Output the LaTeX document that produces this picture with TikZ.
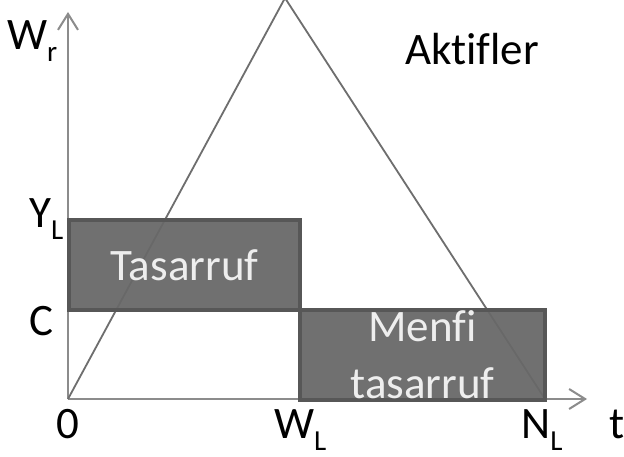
\documentclass[tikz,border=0pt]{standalone}
\usepackage{fontspec}
\setmainfont{Carlito}[Ligatures=NoCommon]
\usetikzlibrary{arrows.meta}
\definecolor{axisgray}{HTML}{8C8C8C}
\definecolor{linegray}{HTML}{6E6E6E}
\definecolor{boxfill}{HTML}{686868}
\definecolor{boxedge}{HTML}{575757}
\definecolor{boxtext}{HTML}{EEEEEE}
\newcommand{\lsub}[1]{\raisebox{-12pt}{\fontsize{29}{29}\selectfont #1}}
\begin{document}
\begin{tikzpicture}[x=1pt,y=-1pt,
  lbl/.style={inner sep=0pt, anchor=base west, font=\fontsize{45}{45}\selectfont, text=black},
  axisline/.style={draw=axisgray, line width=2pt, -{Straight Barb[length=16pt,width=20pt,line width=2pt]}},
  tri/.style={draw=linegray, line width=1.8pt},
  bar/.style={draw=boxedge, fill=boxfill, fill opacity=0.94, draw opacity=1, text opacity=1,
    line width=4pt, inner sep=0pt, text=boxtext, font=\fontsize{45}{57}\selectfont, align=center}]
\useasboundingbox (0,0) rectangle (624,457);
\fill[white] (0,0) rectangle (624,457);
% axes
\coordinate (O) at (68,399);
\coordinate (ytip) at (68,12);
\coordinate (xtip) at (587,399);
\draw[axisline] (O) -- (ytip);
\draw[axisline] (O) -- (xtip);
% triangle
\coordinate (apex) at (285,-2);
\coordinate (NLpt) at (545,399);
\draw[tri] (O) -- (apex) -- (NLpt);
% boxes
\node[bar, minimum width=231pt, minimum height=90pt] (sav) at (184.5,265) {Tasarruf};
\node[bar, minimum width=245pt, minimum height=90pt] (dis) at (422.5,355) {Menfi\\tasarruf};
% labels
\node[lbl] (wr) at (7,50) {W\lsub{r}};
\node[lbl] (akt) at (405,65) {Aktifler};
\node[lbl] (yl) at (29,228) {Y\lsub{L}};
\node[lbl] (c) at (29,335) {C};
\node[lbl, anchor=base] (zero) at (68,438) {0};
\node[lbl] (wl) at (274,438) {W\lsub{L}};
\node[lbl] (nl) at (521,438) {N\lsub{L}};
\node[lbl] (t) at (609,438) {t};
\end{tikzpicture}
\end{document}
